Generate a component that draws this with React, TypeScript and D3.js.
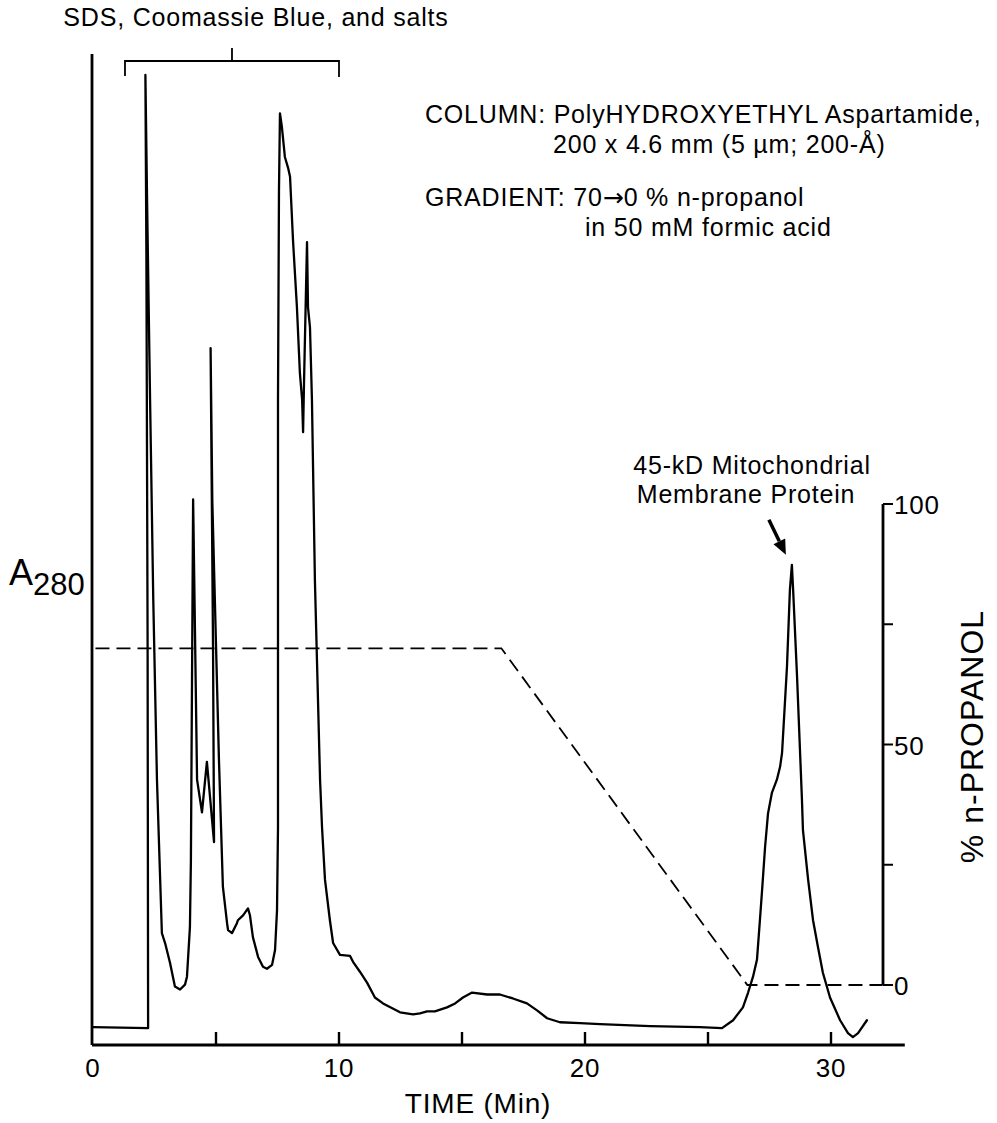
import React from 'react';
import * as d3 from 'd3';

// Chromatogram trace (time in min, A280 in arbitrary units 0-100)
const timeMin = [
  0, 2.24, 2.22, 2.17, 2.13, 2.2, 2.32, 2.45, 2.6, 2.8, 2.93, 3.13, 3.33, 3.54, 3.74, 3.82, 3.94, 3.98,
  4.07, 4.23, 4.43, 4.63, 4.92, 4.88, 4.78, 4.85, 5.12, 5.28, 5.45, 5.49, 5.65, 5.85, 5.89, 6.1, 6.3,
  6.38, 6.5, 6.71, 6.91, 7.07, 7.28, 7.4, 7.48, 7.52, 7.52, 7.56, 7.6, 7.68, 7.8, 7.93, 8.01, 8.13,
  8.29, 8.41, 8.5, 8.54, 8.58, 8.7, 8.74, 8.82, 8.9, 9.02, 9.23, 9.31, 9.43, 9.63, 9.76, 10.04, 10.45,
  10.57, 10.85, 11.14, 11.46, 11.79, 12.48, 13.01, 13.29, 13.58, 13.9, 14.39, 14.72, 15.04, 15.41,
  16.02, 16.54, 17.07, 17.64, 18.05, 18.46, 18.98, 19.8, 20.61, 22.64, 24.67, 25.57, 26.02, 26.42,
  26.63, 26.83, 26.99, 27.11, 27.2, 27.32, 27.44, 27.6, 27.8, 27.93, 28.01, 28.21, 28.33, 28.41,
  28.46, 28.62, 28.82, 28.86, 29.07, 29.27, 29.47, 29.67, 29.96, 30.37, 30.69, 30.89, 31.1, 31.46,
];
const a280 = [
  1.8, 1.7, 40, 80, 98, 85, 65.2, 45, 26.8, 11.3, 10.3, 8.3, 5.9, 5.6, 6.1, 6.9, 11.9, 18.7,
  55.1, 26.8, 23.5, 28.6, 20.5, 40, 70.4, 55, 28.8, 16.0, 12.3, 11.6, 11.3, 12.3, 12.6, 13.1, 13.8,
  13.1, 10.9, 8.9, 7.9, 7.7, 8.1, 9.6, 13.6, 22.0, 65.2, 86.4, 94.1, 92.7, 89.7, 88.6, 87.7, 81.3,
  74.5, 67.9, 65.2, 61.9, 67.2, 81.1, 74.5, 72.5, 65.2, 47.0, 26.8, 22.0, 16.7, 12.6, 10.3, 9.1, 9.0,
  8.4, 7.4, 6.3, 4.8, 4.2, 3.3, 3.1, 3.2, 3.4, 3.4, 3.8, 4.2, 4.8, 5.3,
  5.1, 5.1, 4.7, 4.2, 3.5, 2.7, 2.3, 2.2, 2.1, 1.9, 1.8, 1.7, 2.5, 3.8,
  5.3, 6.9, 8.6, 12.6, 15.7, 20.0, 23.4, 25.5, 26.8, 28.1, 29.5, 38.2, 46.0, 48.5,
  46.0, 37.2, 24.7, 21.7, 16.7, 12.6, 9.9, 7.3, 4.8, 2.5, 1.2, 0.8, 1.2, 2.5,
];

// Gradient programme (% n-propanol)
const gradTime = [0.1, 16.6, 26.6, 32.1];
const gradPct = [70, 70, 0, 0];

const timeTicks = [5, 10, 15, 20, 25, 30];
const timeTickLabels = [0, 10, 20, 30];
const pctTicks = [0, 25, 50, 75, 100];
const pctTickLabels = [0, 50, 100];
const bracketRange = [1.3, 10.0];
const proteinPeak = [28.41, 48.5];

const FONT = '"Liberation Sans", Arial, Helvetica, sans-serif';

export default function App() {
  const x = d3.scaleLinear().domain([0, 33]).range([93, 904.8]);
  const yA = d3.scaleLinear().domain([0, 100]).range([1045, 55]);
  const yP = d3.scaleLinear().domain([0, 100]).range([985, 504]);

  const trace = d3
    .line<number>()
    .x((d) => x(d))
    .y((_, i) => yA(a280[i]))(timeMin) as string;
  const grad = d3
    .line<number>()
    .x((d) => x(d))
    .y((_, i) => yP(gradPct[i]))(gradTime) as string;

  const axisY = 1045;
  const rightX = 883;
  const leftX = x(0) - 1;

  const bx0 = x(bracketRange[0]);
  const bx1 = x(bracketRange[1]);
  const bxm = (bx0 + bx1) / 2;
  const by = 61;

  const tipX = x(proteinPeak[0]) - 6;
  const tipY = yA(proteinPeak[1]) - 10;
  const dx = -17, dy = -35;
  const len = Math.hypot(dx, dy);
  const ux = dx / len, uy = dy / len;
  const hb = 15, hw = 6.5;
  const baseX = tipX + ux * hb, baseY = tipY + uy * hb;
  const head = `M${tipX},${tipY} L${baseX - uy * hw},${baseY + ux * hw} L${baseX + uy * hw},${baseY - ux * hw} Z`;

  const txt = { fontFamily: FONT, fontSize: 25, letterSpacing: 0.8, fill: '#000' } as const;

  return (
    <svg
      width={997}
      height={1123}
      viewBox="0 0 997 1123"
      style={{ position: 'absolute', left: 0, top: 0, background: '#fff' }}
    >
      <rect width={997} height={1123} fill="#fff" />
      {/* axes */}
      <line x1={leftX} y1={54} x2={leftX} y2={axisY} stroke="#000" strokeWidth={2.8} />
      <line x1={leftX} y1={axisY} x2={x(33)} y2={axisY} stroke="#000" strokeWidth={2.8} />
      {timeTicks.map((t) => (
        <line key={t} x1={x(t)} x2={x(t)} y1={axisY} y2={axisY - 13} stroke="#000" strokeWidth={2.4} />
      ))}
      {timeTickLabels.map((t) => (
        <text key={t} x={x(t)} y={1077} textAnchor="middle" {...txt} fontSize={26}>
          {t}
        </text>
      ))}
      <text x={478} y={1113} textAnchor="middle" {...txt} fontSize={28}>
        TIME (Min)
      </text>

      {/* right axis */}
      <line x1={rightX} y1={yP(100)} x2={rightX} y2={yP(0)} stroke="#000" strokeWidth={2.8} />
      {pctTicks.map((p) => (
        <line key={p} x1={rightX} x2={rightX + 10} y1={yP(p)} y2={yP(p)} stroke="#000" strokeWidth={2} />
      ))}
      {pctTickLabels.map((p) => (
        <text key={p} x={rightX + 11} y={yP(p) + 10} {...txt} fontSize={26}>
          {p}
        </text>
      ))}
      <text
        transform={`translate(983,${yP(50) - 8}) rotate(-90)`}
        textAnchor="middle"
        {...txt}
        fontSize={32}
        letterSpacing={1}
      >
        % n-PROPANOL
      </text>

      {/* A280 label */}
      <text x={9} y={585} {...txt} fontSize={36} letterSpacing={0}>
        A<tspan dy={10} fontSize={31}>280</tspan>
      </text>

      {/* gradient */}
      <path d={grad} fill="none" stroke="#000" strokeWidth={1.8} strokeDasharray="14 7" />

      {/* trace */}
      <path d={trace} fill="none" stroke="#000" strokeWidth={2.3} strokeLinejoin="round" strokeLinecap="round" />

      {/* bracket */}
      <path
        d={`M${bx0},${by + 15} L${bx0},${by} L${bx1},${by} L${bx1},${by + 16} M${bxm},${by} L${bxm},${by - 13}`}
        fill="none"
        stroke="#000"
        strokeWidth={1.8}
      />
      <text x={256} y={26} textAnchor="middle" {...txt}>
        SDS, Coomassie Blue, and salts
      </text>

      {/* column info */}
      <text x={425} y={123} {...txt}>COLUMN: PolyHYDROXYETHYL Aspartamide,</text>
      <text x={553} y={153} {...txt}>200 x 4.6 mm (5 µm; 200-Å)</text>
      <text x={425} y={206} {...txt}>
        GRADIENT: 70<tspan fontFamily='"DejaVu Sans", sans-serif' letterSpacing={0}>→</tspan>0 % n-propanol
      </text>
      <text x={585} y={236} {...txt}>in 50 mM formic acid</text>

      {/* protein annotation */}
      <text x={752} y={474} textAnchor="middle" {...txt}>45-kD Mitochondrial</text>
      <text x={746} y={503} textAnchor="middle" {...txt}>Membrane Protein</text>
      <line
        x1={tipX + dx}
        y1={tipY + dy}
        x2={baseX}
        y2={baseY}
        stroke="#000"
        strokeWidth={3.5}
      />
      <path d={head} fill="#000" />
    </svg>
  );
}
